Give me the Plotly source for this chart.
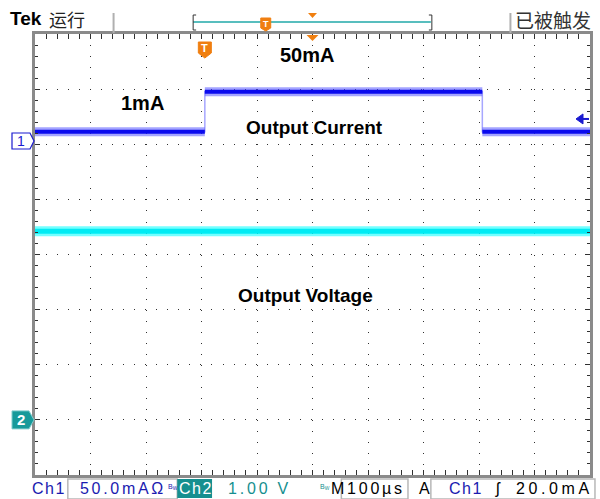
import plotly.graph_objects as go

# ---------------- data ----------------
ch1_time_us = [-306, 0, 0, 500, 500, 694]
ch1_current_mA = [8.4, 8.4, 44.7, 44.7, 8.4, 8.4]
ch2_time_us = [-306, 694]
ch2_voltage_V = [3.42, 3.42]
trigger_level_mA = 20.0
trigger_time_us = 0

x_range_us = [-306, 694]
ch2_range_V = [-1, 7]
ch1_range_mA = [-302.95, 97.05]

# ---------------- geometry helpers ----------------
W, H = 600, 499
PL, PR, PT, PB = 35, 593, 34, 475
PW, PH = PR - PL, PB - PT
TXT_PAD = 3  # annotation inner padding


def px(x):
    return (x - PL) / PW


def pxl(x):  # left edge of text glyphs
    return (x - TXT_PAD - PL) / PW


def py(y):
    return (PB - y) / PH


fig = go.Figure()

# Ch2 (voltage) band
fig.add_trace(go.Scatter(x=ch2_time_us, y=ch2_voltage_V, mode="lines",
                         line=dict(color="rgba(0,255,255,0.55)", width=10),
                         hoverinfo="skip", showlegend=False))
fig.add_trace(go.Scatter(x=ch2_time_us, y=ch2_voltage_V, mode="lines",
                         line=dict(color="#00ecf4", width=5),
                         hoverinfo="skip", showlegend=False))

# Ch1 (current): thin edges + thick level segments
fig.add_trace(go.Scatter(x=ch1_time_us, y=ch1_current_mA, mode="lines", yaxis="y2",
                         line=dict(color="rgba(130,130,255,0.7)", width=1.5),
                         hoverinfo="skip", showlegend=False))
seg_x, seg_y = [], []
for i in range(len(ch1_time_us) - 1):
    if ch1_current_mA[i] == ch1_current_mA[i + 1]:
        seg_x += [ch1_time_us[i], ch1_time_us[i + 1], None]
        seg_y += [ch1_current_mA[i], ch1_current_mA[i + 1], None]
fig.add_trace(go.Scatter(x=seg_x, y=seg_y, mode="lines", yaxis="y2",
                         line=dict(color="rgba(90,90,255,0.55)", width=9),
                         hoverinfo="skip", showlegend=False))
fig.add_trace(go.Scatter(x=seg_x, y=seg_y, mode="lines", yaxis="y2",
                         line=dict(color="#0a0aee", width=4),
                         hoverinfo="skip", showlegend=False))

grid_col = "#303030"
axis_common = dict(showline=True, linecolor="#8a8a8a", linewidth=3, mirror="allticks",
                   ticks="inside", ticklen=5, tickcolor=grid_col, tickwidth=1,
                   showticklabels=False, zeroline=False, showgrid=True,
                   gridcolor=grid_col, gridwidth=1, griddash="1px,10.03px", fixedrange=True)

fig.update_layout(
    width=W, height=H,
    margin=dict(l=PL, r=W - PR, t=PT, b=H - PB),
    paper_bgcolor="white", plot_bgcolor="white",
    xaxis=dict(range=x_range_us, tick0=x_range_us[0], dtick=100,
               minor=dict(dtick=20, tick0=x_range_us[0], ticks="inside", ticklen=3,
                          tickcolor=grid_col, showgrid=False),
               **axis_common),
    yaxis=dict(range=ch2_range_V, tick0=0, dtick=1,
               minor=dict(dtick=0.2, ticks="inside", ticklen=3, tickcolor=grid_col,
                          showgrid=False),
               **axis_common),
    yaxis2=dict(range=ch1_range_mA, overlaying="y", visible=False, fixedrange=True),
    font=dict(family="Liberation Sans, Arial, sans-serif"),
)

shapes = []
ann = []

# Ch1 reference marker
shapes.append(dict(type="path", xref="paper", yref="y2", xsizemode="pixel", ysizemode="pixel",
                   xanchor=0, yanchor=0,
                   path="M -23,8 L -5,8 L -1,0 L -5,-8 L -23,-8 Z",
                   fillcolor="white", line=dict(color="#1a1ad0", width=1.2)))
ann.append(dict(xref="paper", yref="y2", x=px(21), y=0, text="1", showarrow=False,
                font=dict(size=14, color="#1a1ad0"), xanchor="center", yanchor="middle"))

# Ch2 reference marker
shapes.append(dict(type="path", xref="paper", yref="y", xsizemode="pixel", ysizemode="pixel",
                   xanchor=0, yanchor=0,
                   path="M -23,9 L -6,9 L -1,0 L -6,-9 L -23,-9 Z",
                   fillcolor="#169a9a", line=dict(color="#7fcccc", width=1)))
ann.append(dict(xref="paper", yref="y", x=px(21), y=0, text="<b>2</b>", showarrow=False,
                font=dict(size=15, color="white"), xanchor="center", yanchor="middle"))

# trigger level arrow (right edge)
shapes.append(dict(type="path", xref="paper", yref="y2", xsizemode="pixel", ysizemode="pixel",
                   xanchor=1, yanchor=trigger_level_mA,
                   path="M -14,0 L -7,-5 L -7,5 Z",
                   fillcolor="#1a1ad0", line=dict(color="#1a1ad0", width=1)))
shapes.append(dict(type="path", xref="paper", yref="y2", xsizemode="pixel", ysizemode="pixel",
                   xanchor=1, yanchor=trigger_level_mA,
                   path="M -7,0 L -1,0", line=dict(color="#1a1ad0", width=2)))

# trigger position badge inside plot
shapes.append(dict(type="path", xref="x", yref="paper", xsizemode="pixel", ysizemode="pixel",
                   xanchor=trigger_time_us, yanchor=1,
                   path="M -6.5,-8 L 6.5,-8 L 6.5,-19 L 0,-24 L -6.5,-19 Z",
                   fillcolor="#f07f10", line=dict(color="#f07f10", width=1)))
ann.append(dict(xref="x", yref="paper", x=trigger_time_us, y=py(48), text="<b>T</b>",
                showarrow=False, font=dict(size=11, color="white"),
                xanchor="center", yanchor="middle"))

# horizontal position triangle just under top border
shapes.append(dict(type="path", xref="paper", yref="paper",
                   path=f"M {px(308)},{py(35)} L {px(320)},{py(35)} L {px(314)},{py(41)} Z",
                   fillcolor="#f07f10", line=dict(color="#f07f10", width=0)))

# ---------------- header ----------------
ann.append(dict(xref="paper", yref="paper", x=pxl(11), y=py(18), text="<b>Tek</b>",
                showarrow=False, font=dict(size=19, color="black", family="Liberation Sans"),
                xanchor="left", yanchor="middle"))
ann.append(dict(xref="paper", yref="paper", x=pxl(50), y=py(19), text="运行",
                showarrow=False, font=dict(size=18, color="#222", family="Noto Sans CJK SC"),
                xanchor="left", yanchor="middle"))
ann.append(dict(xref="paper", yref="paper", x=pxl(519), y=py(20), text="已被触发",
                showarrow=False, font=dict(size=19, color="#333", family="Noto Sans CJK SC"),
                xanchor="left", yanchor="middle"))
for sx in (114, 513):
    shapes.append(dict(type="line", xref="paper", yref="paper",
                       x0=px(sx), x1=px(sx), y0=py(13), y1=py(33),
                       line=dict(color="#b0b0b0", width=2)))
# record bar
shapes.append(dict(type="line", xref="paper", yref="paper", x0=px(194), x1=px(433),
                   y0=py(22), y1=py(22), line=dict(color="#20a8a8", width=1.5)))
shapes.append(dict(type="path", xref="paper", yref="paper",
                   path=f"M {px(197)},{py(15)} L {px(194)},{py(15)} L {px(194)},{py(30)} L {px(197)},{py(30)}",
                   line=dict(color="#333", width=1)))
shapes.append(dict(type="path", xref="paper", yref="paper",
                   path=f"M {px(431)},{py(15)} L {px(434)},{py(15)} L {px(434)},{py(30)} L {px(431)},{py(30)}",
                   line=dict(color="#333", width=1)))
shapes.append(dict(type="path", xref="paper", yref="paper",
                   path=f"M {px(262)},{py(18)} L {px(272)},{py(18)} L {px(272)},{py(28)} L {px(267)},{py(31)} L {px(262)},{py(28)} Z",
                   fillcolor="#f07f10", line=dict(color="#f07f10", width=1)))
ann.append(dict(xref="paper", yref="paper", x=px(267), y=py(23.5), text="<b>T</b>",
                showarrow=False, font=dict(size=9, color="white"),
                xanchor="center", yanchor="middle"))
shapes.append(dict(type="path", xref="paper", yref="paper",
                   path=f"M {px(309.5)},{py(13)} L {px(318.5)},{py(13)} L {px(314)},{py(18)} Z",
                   fillcolor="#f07f10", line=dict(color="#f07f10", width=0)))

# ---------------- annotations in plot ----------------
lab_font = dict(size=19, color="black", family="Liberation Sans, Arial")
ann.append(dict(xref="paper", yref="paper", x=px(308), y=py(55), text="<b>50mA</b>",
                showarrow=False, font=dict(size=20, color="black", family="Liberation Sans, Arial"),
                xanchor="center", yanchor="middle"))
ann.append(dict(xref="paper", yref="paper", x=px(143), y=py(103), text="<b>1mA</b>",
                showarrow=False, font=dict(size=20, color="black", family="Liberation Sans, Arial"),
                xanchor="center", yanchor="middle"))
ann.append(dict(xref="paper", yref="paper", x=px(316), y=py(127), text="<b>Output Current</b>",
                showarrow=False, font=lab_font, xanchor="center", yanchor="middle"))
ann.append(dict(xref="paper", yref="paper", x=px(307), y=py(296), text="<b>Output Voltage</b>",
                showarrow=False, font=lab_font, xanchor="center", yanchor="middle"))

# ---------------- bottom status bar ----------------
blue = "#1a1ab0"
teal = "#168f8f"
yb = py(489)


def sp(t, ls=2.2):
    return f'<span style="letter-spacing:{ls}px">{t}</span>'


bar_font = "Liberation Sans, Arial"
for (x0, x1) in ((68, 178), (343, 410), (433, 598)):
    shapes.append(dict(type="rect", xref="paper", yref="paper",
                       x0=px(x0), x1=px(x1), y0=py(499), y1=py(479),
                       line=dict(color="#b8b8b8", width=1.5), fillcolor="rgba(0,0,0,0)"))
shapes.append(dict(type="rect", xref="paper", yref="paper",
                   x0=px(178), x1=px(213), y0=py(498), y1=py(479),
                   line=dict(color=teal, width=0), fillcolor=teal))

bar_items = [
    (33, sp("Ch1", 1.5), blue, 16),
    (81, sp("50.0mAΩ", 2.7), blue, 16),
    (181, sp("Ch2", 1.5), "white", 16),
    (230, sp("1.00 V", 2.8), teal, 16),
    (334, "M", "black", 16),
    (350, sp("100µs", 2.8), "black", 16),
    (422, "A", "black", 16),
    (452, sp("Ch1", 1.5), blue, 16),
    (498, "ʃ", "black", 16),
    (520, sp("20.0mA", 3.6), "black", 16),
]
for x, t, c, s in bar_items:
    ann.append(dict(xref="paper", yref="paper", x=pxl(x), y=yb, text=t, showarrow=False,
                    font=dict(size=s, color=c, family=bar_font), xanchor="left",
                    yanchor="middle"))
for x, c in ((169.5, blue), (323, teal)):
    ann.append(dict(xref="paper", yref="paper", x=pxl(x), y=py(487),
                    text="B<sub>W</sub>", showarrow=False,
                    font=dict(size=7, color=c, family=bar_font), xanchor="left",
                    yanchor="middle"))

fig.update_layout(shapes=shapes, annotations=ann)
fig.write_html("out.html", config={"displayModeBar": False, "staticPlot": True},
               post_script="document.body.style.margin='0';document.body.style.padding='0';")
